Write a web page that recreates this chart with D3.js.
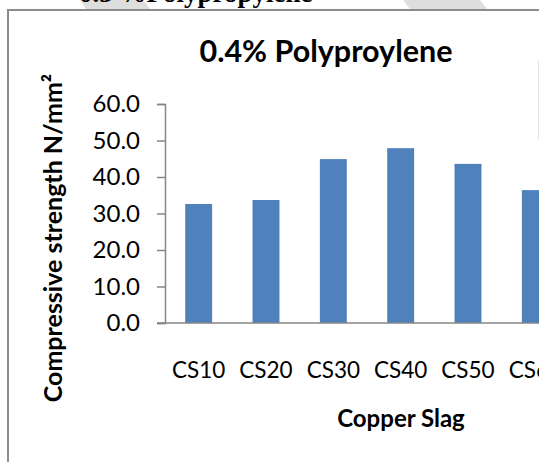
<!DOCTYPE html>
<html>
<head>
<meta charset="utf-8">
<script src="https://cdn.jsdelivr.net/npm/d3@7"></script>
<style>
  body { margin: 0; background: #fff; overflow: hidden; }
  text { font-family: Lato, "Open Sans", sans-serif; fill: #000; }
</style>
</head>
<body>
<div id="container"></div>
<script>
/* CONSTANTS AND GLOBALS */
const width = 539,
  height = 462,
  margin = { top: 104, bottom: 139, left: 165, right: -30 },
  barColor = '#4F81BD',
  axisColor = '#868686';

/* DATA */
const categories = ['CS10', 'CS20', 'CS30', 'CS40', 'CS50', 'CS60'];
const strength = [32.6, 33.7, 44.9, 47.9, 43.6, 36.4];
const yTicks = [0, 10, 20, 30, 40, 50, 60];

/* SCALES */
// xScale - band, one per copper slag mix
const xScale = d3.scaleBand()
  .domain(categories)
  .range([margin.left, width - margin.right])
  .paddingInner(0.6)
  .paddingOuter(0.3);

// yScale - linear, strength
const yScale = d3.scaleLinear()
  .domain([0, 60])
  .range([height - margin.bottom, margin.top]);

/* HTML ELEMENTS */
const svg = d3.select('#container')
  .append('svg')
  .attr('width', width)
  .attr('height', height);

// bits of the page above the chart (cut off heading + watermark)
svg.append('polygon')
  .attr('points', '80,0 143,0 150,9 86,9')
  .attr('fill', '#dedede');
svg.append('polygon')
  .attr('points', '403,0 480,0 487,9 410,9')
  .attr('fill', '#dedede');
svg.append('text')
  .attr('x', 79)
  .attr('y', 2)
  .style('font-family', '"Liberation Serif", serif')
  .attr('font-weight', 'bold')
  .attr('font-size', 27)
  .text('0.3 %Polypropylene');

// chart frame
svg.append('path')
  .attr('d', `M8,${height} V10 H${width}`)
  .attr('fill', 'none')
  .attr('stroke', '#8c8c8c')
  .attr('stroke-width', 2);
svg.append('line')
  .attr('x1', 538.5).attr('x2', 538.5)
  .attr('y1', 60).attr('y2', 140)
  .attr('stroke', '#e4e4e4');

// bars
svg.selectAll('rect.bar')
  .data(strength)
  .join('rect')
  .attr('class', 'bar')
  .attr('x', (d, i) => xScale(categories[i]))
  .attr('y', d => yScale(d))
  .attr('width', xScale.bandwidth())
  .attr('height', d => yScale(0) - yScale(d))
  .attr('fill', barColor);

// y axis
const yAxis = d3.axisLeft(yScale)
  .tickValues(yTicks)
  .tickFormat(d3.format('.1f'))
  .tickSize(8)
  .tickPadding(17);
const yG = svg.append('g')
  .attr('transform', `translate(${margin.left},0)`)
  .call(yAxis);
yG.select('.domain').attr('stroke', axisColor).attr('stroke-width', 1.5);
yG.selectAll('.tick line').attr('stroke', axisColor).attr('stroke-width', 1.5);
yG.selectAll('.tick text')
  .attr('font-size', 24)
  .style('font-family', 'Lato, sans-serif')
  .attr('fill', '#000');

// x axis
const xAxis = d3.axisBottom(xScale).tickSize(0).tickPadding(39);
const xG = svg.append('g')
  .attr('transform', `translate(0,${yScale(0)})`)
  .call(xAxis);
xG.select('.domain').attr('stroke', axisColor).attr('stroke-width', 1.5)
  .attr('d', `M${margin.left - 8},0H${width}`);
xG.selectAll('.tick text')
  .attr('font-size', 22.5)
  .style('font-family', 'Lato, sans-serif')
  .attr('fill', '#000');

// titles
svg.append('text')
  .attr('x', 326)
  .attr('y', 62)
  .attr('text-anchor', 'middle')
  .attr('font-weight', 'bold')
  .attr('font-size', 30.5)
  .text('0.4% Polyproylene');

svg.append('text')
  .attr('x', 401)
  .attr('y', 427)
  .attr('text-anchor', 'middle')
  .attr('font-weight', 'bold')
  .attr('font-size', 24)
  .text('Copper Slag');

svg.append('text')
  .attr('transform', 'translate(62,238) rotate(-90)')
  .attr('text-anchor', 'middle')
  .attr('font-weight', 'bold')
  .attr('font-size', 25)
  .text('Compressive strength N/mm²');
</script>
</body>
</html>
